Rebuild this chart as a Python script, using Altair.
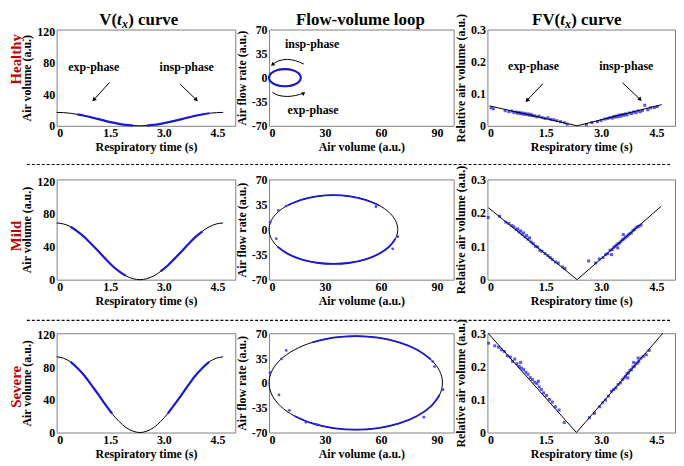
import altair as alt
import pandas as pd

FONT = "Liberation Serif"
BLUE_LINE = "#1a1ad0"
BLUE_DOT = "#3a3aff"
RED = "#c00000"
FRAME = "#808080"

rows = ["Healthy", "Mild", "Severe"]

# column titles, split into pieces: (text, italic, subscript)
title_v = [("V(", False, False), ("t", True, False), ("x", True, True), (") curve", False, False)]
title_loop = [("Flow-volume loop", False, False)]
title_fv = [("FV(", False, False), ("t", True, False), ("x", True, True), (") curve", False, False)]

# ---------- V(t) curves ----------
t_vals = [0, 0.19, 0.39, 0.58, 0.78, 0.97, 1.17, 1.36, 1.55, 1.75, 1.94, 2.14, 2.33,
          2.52, 2.72, 2.91, 3.11, 3.30, 3.50, 3.69, 3.88, 4.08, 4.27, 4.47, 4.66]
v_healthy = [17, 16.7, 15.9, 14.5, 12.8, 10.7, 8.5, 6.3, 4.3, 2.5, 1.1, 0.3, 0,
             0.3, 1.1, 2.5, 4.3, 6.3, 8.5, 10.7, 12.8, 14.5, 15.9, 16.7, 17]
v_mild = [69, 67.8, 64.4, 58.9, 51.8, 43.4, 34.5, 25.6, 17.3, 10.1, 4.6, 1.2, 0,
          1.2, 4.6, 10.1, 17.3, 25.6, 34.5, 43.4, 51.8, 58.9, 64.4, 67.8, 69]
v_severe = [93, 91.4, 86.8, 79.4, 69.8, 58.5, 46.5, 34.5, 23.3, 13.6, 6.2, 1.6, 0,
            1.6, 6.2, 13.6, 23.3, 34.5, 46.5, 58.5, 69.8, 79.4, 86.8, 91.4, 93]
v_curves = {"Healthy": v_healthy, "Mild": v_mild, "Severe": v_severe}
v_blue_ranges = {"Healthy": [(3, 11), (13, 22)], "Mild": [(2, 10), (15, 21)],
                 "Severe": [(2, 8), (16, 22)]}

# ---------- flow-volume loops ----------
loop_x_healthy = [17, 16.71, 15.86, 14.51, 12.75, 10.70, 8.5, 6.30, 4.25, 2.49, 1.14, 0.29,
                  0, 0.29, 1.14, 2.49, 4.25, 6.30, 8.5, 10.70, 12.75, 14.51, 15.86, 16.71]
loop_y_healthy = [0, 3.24, 6.25, 8.84, 10.83, 12.08, 12.5, 12.08, 10.83, 8.84, 6.25, 3.24,
                  0, -3.24, -6.25, -8.84, -10.83, -12.08, -12.5, -12.08, -10.83, -8.84, -6.25, -3.24]
loop_x_mild = [69, 67.83, 64.38, 58.89, 51.75, 43.44, 34.5, 25.56, 17.25, 10.11, 4.62, 1.17,
               0, 1.17, 4.62, 10.11, 17.25, 25.56, 34.5, 43.44, 51.75, 58.89, 64.38, 67.83]
loop_y_mild = [0, 12.43, 24, 33.94, 41.57, 46.37, 48, 46.37, 41.57, 33.94, 24, 12.43,
               0, -12.43, -24, -33.94, -41.57, -46.37, -48, -46.37, -41.57, -33.94, -24, -12.43]
loop_x_severe = [93, 91.42, 86.77, 79.38, 69.75, 58.54, 46.5, 34.46, 23.25, 13.62, 6.23, 1.58,
                 0, 1.58, 6.23, 13.62, 23.25, 34.46, 46.5, 58.54, 69.75, 79.38, 86.77, 91.42]
loop_y_severe = [0, 17.09, 33, 46.66, 57.16, 63.76, 66, 63.76, 57.16, 46.66, 33, 17.09,
                 0, -17.09, -33, -46.66, -57.16, -63.76, -66, -63.76, -57.16, -46.66, -33, -17.09]
loop_x = {"Healthy": loop_x_healthy, "Mild": loop_x_mild, "Severe": loop_x_severe}
loop_y = {"Healthy": loop_y_healthy, "Mild": loop_y_mild, "Severe": loop_y_severe}
loop_blue_ranges = {"Healthy": [(0, 23)], "Mild": [(3, 9), (14, 23)], "Severe": [(2, 8), (15, 23)]}
loop_out_x = {"Healthy": [], "Mild": [0.6, 3.9, 5.0, 9.2, 57.3, 69.0, 66.3],
              "Severe": [0.5, 5.3, 6.6, 9.2, 10.9, 19.8, 25.7, 87.8, 88.7, 93.3, 83.0]}
loop_out_y = {"Healthy": [], "Mild": [10.3, -12.7, 26.6, 32.8, 31.8, -10.0, -27.0],
              "Severe": [14.3, -17.0, 33.8, 45.8, -38.7, -55.6, -59.0, 30.0, 23.0, -9.7, -48.4]}

# ---------- FV(t) curves ----------
fv_line_t = {"Healthy": [-0.02, 2.35, 4.64], "Mild": [-0.05, 2.35, 4.63], "Severe": [-0.06, 2.33, 4.67]}
fv_line_y = {"Healthy": [0.062, 0, 0.066], "Mild": [0.215, 0, 0.22], "Severe": [0.3, 0, 0.3]}

fv_healthy_t = [0.02, 0.08, 0.40, 0.50, 0.58, 0.64, 0.70, 0.74, 0.78, 0.82, 0.86, 0.90, 0.94, 0.98, 1.02,
                1.06, 1.10, 1.14, 1.20, 1.26, 1.32, 1.40, 1.48, 1.56, 1.64, 1.72, 1.80, 1.90, 2.00, 2.08,
                2.60, 2.75, 2.90, 3.00, 3.10, 3.18, 3.24, 3.30, 3.34, 3.38, 3.42, 3.46, 3.50, 3.54, 3.58,
                3.62, 3.66, 3.70, 3.76, 3.82, 3.88, 3.94, 4.00, 4.06, 4.12, 4.18, 4.26, 4.34, 4.44, 4.52]
fv_healthy_y = [0.056, 0.053, 0.047, 0.044, 0.046, 0.041, 0.043, 0.039, 0.042, 0.038, 0.040, 0.036, 0.039, 0.035, 0.037,
                0.033, 0.036, 0.032, 0.031, 0.028, 0.030, 0.026, 0.023, 0.025, 0.020, 0.019, 0.016, 0.013, 0.010, 0.005,
                0.004, 0.010, 0.013, 0.017, 0.021, 0.023, 0.026, 0.024, 0.029, 0.027, 0.031, 0.028, 0.034, 0.030, 0.035,
                0.033, 0.037, 0.034, 0.040, 0.038, 0.043, 0.041, 0.046, 0.044, 0.048, 0.064, 0.050, 0.056, 0.057, 0.060]
fv_mild_t = [-0.06, 0.25, 0.42, 0.50, 0.58, 0.64, 0.70, 0.74, 0.78, 0.82, 0.86, 0.90, 0.94, 0.98, 1.02,
             1.06, 1.10, 1.16, 1.22, 1.28, 1.34, 1.40, 1.48, 1.56, 1.62, 1.68, 1.76, 1.84, 1.96, 2.02,
             2.66, 2.85, 2.95, 3.05, 3.12, 3.18, 3.24, 3.30, 3.34, 3.38, 3.42, 3.46, 3.50, 3.54, 3.58,
             3.62, 3.66, 3.70, 3.74, 3.78, 3.82, 3.86, 3.90, 3.94, 3.98, 4.02, 4.08, 3.45, 3.28, 3.60]
fv_mild_y = [0.186, 0.190, 0.172, 0.168, 0.162, 0.158, 0.150, 0.152, 0.143, 0.146, 0.136, 0.140, 0.128, 0.132, 0.121,
             0.125, 0.113, 0.108, 0.100, 0.098, 0.088, 0.085, 0.078, 0.072, 0.066, 0.060, 0.053, 0.050, 0.038, 0.033,
             0.056, 0.050, 0.062, 0.066, 0.075, 0.078, 0.088, 0.090, 0.097, 0.100, 0.104, 0.108, 0.110, 0.115, 0.120,
             0.122, 0.127, 0.130, 0.134, 0.138, 0.140, 0.147, 0.150, 0.155, 0.158, 0.160, 0.163, 0.095, 0.075, 0.135]
fv_severe_t = [-0.05, 0.12, 0.22, 0.30, 0.38, 0.46, 0.54, 0.60, 0.66, 0.72, 0.78, 0.84, 0.90, 0.96, 1.02,
               1.08, 1.14, 1.20, 1.26, 1.32, 1.38, 1.44, 1.52, 1.60, 1.68, 1.76, 1.86, 2.00, 0.82, 1.30,
               2.68, 2.82, 2.96, 3.04, 3.12, 3.20, 3.28, 3.34, 3.40, 3.46, 3.52, 3.58, 3.62, 3.66, 3.70,
               3.74, 3.78, 3.82, 3.86, 3.90, 3.94, 3.98, 4.02, 4.08, 4.14, 4.22, 4.30, 3.72, 3.88, 4.00]
fv_severe_y = [0.270, 0.262, 0.258, 0.250, 0.245, 0.232, 0.228, 0.215, 0.222, 0.208, 0.200, 0.195, 0.190, 0.182, 0.176,
               0.166, 0.160, 0.152, 0.148, 0.138, 0.130, 0.120, 0.112, 0.100, 0.092, 0.078, 0.068, 0.030, 0.212, 0.155,
               0.045, 0.058, 0.078, 0.090, 0.098, 0.110, 0.125, 0.130, 0.135, 0.145, 0.150, 0.160, 0.165, 0.170, 0.178,
               0.180, 0.188, 0.190, 0.198, 0.200, 0.208, 0.210, 0.215, 0.225, 0.230, 0.235, 0.248, 0.165, 0.212, 0.225]
fv_t = {"Healthy": fv_healthy_t, "Mild": fv_mild_t, "Severe": fv_severe_t}
fv_y = {"Healthy": fv_healthy_y, "Mild": fv_mild_y, "Severe": fv_severe_y}

# ---------- annotations (healthy row, data coordinates) ----------
ann_v_text = [("exp-phase", 1.04, 74), ("insp-phase", 3.64, 74)]
ann_v_arrows = [(1.48, 55, 1.04, 33, 223), (3.46, 52.6, 3.91, 33, 133)]
ann_loop_text = [("insp-phase", 23.1, 48.7), ("exp-phase", 23.6, -47.2)]
ann_loop_arc_top_x = [18.6, 14.2, 9.8, 5.3, 1.8]
ann_loop_arc_top_y = [19.9, 24.6, 26.6, 24.6, 19.0]
ann_loop_arc_bot_x = [1.8, 5.3, 9.8, 14.2, 18.6]
ann_loop_arc_bot_y = [-21.2, -25.9, -27.3, -25.9, -22.6]
ann_loop_heads = [(1.8, 19.0, 235), (18.6, -22.6, 55)]
ann_fv_text = [("exp-phase", 1.17, 0.185), ("insp-phase", 3.68, 0.187)]
ann_fv_arrows = [(1.42, 0.131, 0.99, 0.079, 224), (3.58, 0.134, 4.06, 0.082, 133)]

# ---------- layout ----------
row_heights = {"Healthy": 97, "Mild": 101, "Severe": 100}
panel_widths = [180, 186, 189]
label_y = {"Healthy": 30, "Mild": 57, "Severe": 54}
sep_y = {"Mild": -15, "Severe": -13}
TITLE_SIZE = 17
title_left = [43, 92, 45]   # pixel start of each column title inside its panel
piece_width = {"V(": 17.9, "FV(": 28.3, "t": 4.9, "x": 6.3, ") curve": 50.5}

DEC = "datum.value == 0 ? '0' : format(datum.value, '.1f')"
INT = "'' + datum.value"
one = pd.DataFrame({"a": [0]})


def title_layers(pieces, col):
    layers = []
    if len(pieces) == 1:
        layers.append(alt.Chart(one).mark_text(text=pieces[0][0], font=FONT, fontSize=TITLE_SIZE,
                                               fontWeight="bold", color="black", align="center",
                                               baseline="alphabetic")
                      .encode(x=alt.value(title_left[col]), y=alt.value(-5)))
        return layers
    x = title_left[col]
    for txt, ital, sub in pieces:
        layers.append(alt.Chart(one).mark_text(text=txt, font=FONT,
                                               fontSize=12 if sub else TITLE_SIZE,
                                               fontWeight="bold",
                                               fontStyle="italic" if ital else "normal",
                                               color="black", align="left", baseline="alphabetic")
                      .encode(x=alt.value(x), y=alt.value(-2 if sub else -5)))
        x += piece_width[txt]
    return layers


def annotation_layers(X, Y, texts, arrows):
    tdf = pd.DataFrame({"x": [a[1] for a in texts], "y": [a[2] for a in texts],
                        "txt": [a[0] for a in texts]})
    layers = [alt.Chart(tdf).mark_text(font=FONT, fontWeight="bold", fontSize=12, color="black")
              .encode(X, Y, text="txt:N")]
    if arrows:
        adf = pd.DataFrame({"x": [a[0] for a in arrows], "y": [a[1] for a in arrows],
                            "x2": [a[2] for a in arrows], "y2": [a[3] for a in arrows]})
        layers.append(alt.Chart(adf).mark_rule(color="black", strokeWidth=1)
                      .encode(X, Y, x2="x2:Q", y2="y2:Q"))
        hdf = pd.DataFrame({"x": [a[2] for a in arrows], "y": [a[3] for a in arrows],
                            "ang": [a[4] for a in arrows]})
        layers.append(alt.Chart(hdf).mark_point(shape="triangle-up", filled=True, size=22,
                                                color="black", opacity=1)
                      .encode(X, Y, angle=alt.Angle("ang:Q", scale=None)))
    return layers


def v_panel(row, idx):
    X = alt.X("x:Q", scale=alt.Scale(domain=[0, 5], nice=False, zero=False),
              axis=alt.Axis(values=[0, 1.5, 3, 4.5], labelExpr=DEC, title="Respiratory time (s)"))
    Y = alt.Y("y:Q", scale=alt.Scale(domain=[0, 122], nice=False),
              axis=alt.Axis(values=[0, 40, 80, 120], labelExpr=INT, title="Air volume (a.u.)"))
    df = pd.DataFrame({"x": t_vals, "y": v_curves[row]})
    layers = [alt.Chart(df).mark_line(color="black", strokeWidth=1, interpolate="monotone").encode(X, Y)]
    bx, by, bs = [], [], []
    for s, (a, b) in enumerate(v_blue_ranges[row]):
        for k in range(a, b + 1):
            bx.append(t_vals[k]); by.append(v_curves[row][k]); bs.append(s)
    bdf = pd.DataFrame({"x": bx, "y": by, "seg": bs})
    layers.append(alt.Chart(bdf).mark_line(color=BLUE_LINE, strokeWidth=2.2, interpolate="monotone")
                  .encode(X, Y, detail="seg:N"))
    layers.append(alt.Chart(one).mark_text(text=row, angle=270, color=RED, font=FONT, fontSize=15,
                                           fontWeight="bold", align="center", baseline="middle")
                  .encode(x=alt.value(-41), y=alt.value(label_y[row])))
    if row in sep_y:
        layers.append(alt.Chart(one).mark_rule(color="black", strokeDash=[3, 2], strokeWidth=1.2)
                      .encode(x=alt.value(-30), x2=alt.value(618), y=alt.value(sep_y[row])))
    if idx == 0:
        layers += annotation_layers(X, Y, ann_v_text, ann_v_arrows)
        layers += title_layers(title_v, 0)
    return alt.layer(*layers).properties(width=panel_widths[0], height=row_heights[row])


def loop_panel(row, idx):
    X = alt.X("x:Q", scale=alt.Scale(domain=[0, 99], nice=False, zero=False),
              axis=alt.Axis(values=[0, 30, 60, 90], labelExpr=INT, title="Air volume (a.u.)"))
    Y = alt.Y("y:Q", scale=alt.Scale(domain=[-70, 70], nice=False),
              axis=alt.Axis(values=[-70, -35, 0, 35, 70], labelExpr=INT, title="Air flow rate (a.u.)"))
    lx, ly = loop_x[row], loop_y[row]
    df = pd.DataFrame({"x": lx, "y": ly, "k": list(range(len(lx)))})
    layers = [alt.Chart(df).mark_line(color="black", strokeWidth=1, interpolate="cardinal-closed")
              .encode(X, Y, order="k:Q")]
    for s, (a, b) in enumerate(loop_blue_ranges[row]):
        sub = pd.DataFrame({"x": lx[a:b + 1], "y": ly[a:b + 1], "k": list(range(a, b + 1))})
        closed = (a == 0 and b == len(lx) - 1)
        layers.append(alt.Chart(sub).mark_line(color=BLUE_LINE, strokeWidth=2.2 if closed else 1.8,
                                               interpolate="cardinal-closed" if closed else "cardinal")
                      .encode(X, Y, order="k:Q"))
    if loop_out_x[row]:
        odf = pd.DataFrame({"x": loop_out_x[row], "y": loop_out_y[row]})
        layers.append(alt.Chart(odf).mark_circle(size=8, color=BLUE_DOT, opacity=0.9).encode(X, Y))
    if idx == 0:
        layers += annotation_layers(X, Y, ann_loop_text, [])
        arc = pd.DataFrame({"x": ann_loop_arc_top_x + ann_loop_arc_bot_x,
                            "y": ann_loop_arc_top_y + ann_loop_arc_bot_y,
                            "arc": [0] * 5 + [1] * 5, "k": list(range(10))})
        layers.append(alt.Chart(arc).mark_line(color="black", strokeWidth=1, interpolate="monotone")
                      .encode(X, Y, detail="arc:N", order="k:Q"))
        hdf = pd.DataFrame({"x": [h[0] for h in ann_loop_heads], "y": [h[1] for h in ann_loop_heads],
                            "ang": [h[2] for h in ann_loop_heads]})
        layers.append(alt.Chart(hdf).mark_point(shape="triangle-up", filled=True, size=18,
                                                color="black", opacity=1)
                      .encode(X, Y, angle=alt.Angle("ang:Q", scale=None)))
        layers += title_layers(title_loop, 1)
    return alt.layer(*layers).properties(width=panel_widths[1], height=row_heights[row])


def fv_panel(row, idx):
    X = alt.X("x:Q", scale=alt.Scale(domain=[-0.08, 5], nice=False, zero=False),
              axis=alt.Axis(values=[0, 1.5, 3, 4.5], labelExpr=DEC, title="Respiratory time (s)"))
    Y = alt.Y("y:Q", scale=alt.Scale(domain=[0, 0.3], nice=False),
              axis=alt.Axis(values=[0, 0.1, 0.2, 0.3], labelExpr=DEC, title="Relative air volume (a.u.)"))
    ldf = pd.DataFrame({"x": fv_line_t[row], "y": fv_line_y[row]})
    pdf = pd.DataFrame({"x": fv_t[row], "y": fv_y[row]})
    layers = [
        alt.Chart(pdf).mark_square(size=9, color=BLUE_DOT, opacity=0.85).encode(X, Y),
        alt.Chart(ldf).mark_line(color="black", strokeWidth=1).encode(X, Y),
    ]
    if idx == 0:
        layers += annotation_layers(X, Y, ann_fv_text, ann_fv_arrows)
        layers += title_layers(title_fv, 2)
    return alt.layer(*layers).properties(width=panel_widths[2], height=row_heights[row])


panels = []
for i, r in enumerate(rows):
    panels += [v_panel(r, i), loop_panel(r, i), fv_panel(r, i)]

chart = alt.concat(
    *panels, columns=3, spacing={"row": 54, "column": 34}, bounds="flush",
).properties(padding=0).configure_axis(
    labelFont=FONT, labelFontWeight="bold", labelFontSize=12, labelColor="black",
    titleFont=FONT, titleFontWeight="bold", titleFontSize=12, titleColor="black",
    ticks=False, domain=False, grid=False, labelPadding=2, titlePadding=3,
).configure_view(stroke=FRAME, strokeWidth=1)

chart.save("out.html", embed_options={"renderer": "svg", "actions": False})
